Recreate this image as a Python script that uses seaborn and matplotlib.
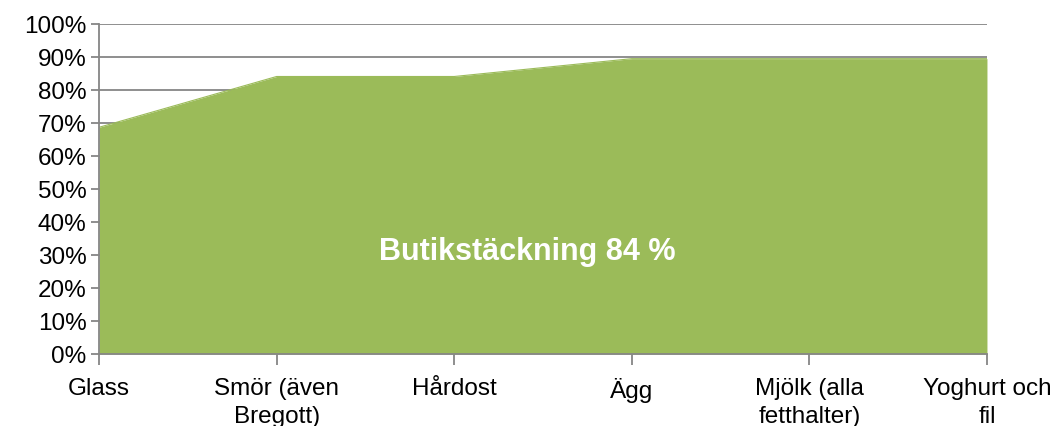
import numpy as np
import matplotlib
matplotlib.use("Agg")
import matplotlib.pyplot as plt
import seaborn as sns
import pandas as pd

categories = ["Glass", "Smör (även\nBregott)", "Hårdost", "Ägg", "Mjölk (alla\nfetthalter)", "Yoghurt och\nfil"]
coverage = [68.7, 84.1, 84.1, 89.5, 89.5, 89.5]
y_ticks = list(range(0, 101, 10))
center_label = "Butikstäckning 84 %"

sns.set_theme(style="white")
plt.rcParams['font.family'] = ['Liberation Sans', 'DejaVu Sans']
plt.rcParams['text.color'] = 'black'
plt.rcParams['xtick.color'] = 'black'
plt.rcParams['ytick.color'] = 'black'

df = pd.DataFrame({"cat": categories, "val": coverage})
xpos = np.arange(len(categories))

fig = plt.figure(figsize=(10.6, 4.26), dpi=100)
ax = fig.add_axes([0.0934, 0.169, 0.8377, 0.7746])

ax.fill_between(xpos, 0, df["val"], color="#9BBB59", linewidth=0, zorder=2)
sns.lineplot(x=xpos, y=df["val"], ax=ax, color="#9BBB59", linewidth=0.8, zorder=2)

ax.set_xlim(0, len(categories) - 1)
ax.set_ylim(0, 100)
ax.set_yticks(y_ticks)
ax.set_yticklabels([f"{t}%" for t in y_ticks], fontsize=17.5, color="black")
ax.set_xticks(xpos)
ax.set_xticklabels(categories, fontsize=17.5, linespacing=1.35, color="black")
ax.set_xlabel("")
ax.set_ylabel("")

for t in y_ticks[1:]:
    ax.axhline(t, color="#868686", linewidth=1.3, zorder=1)

for side in ["top", "right"]:
    ax.spines[side].set_visible(False)
for side in ["left", "bottom"]:
    ax.spines[side].set_color("#868686")
    ax.spines[side].set_linewidth(1.3)
    ax.spines[side].set_zorder(3)

ax.tick_params(axis="y", direction="out", length=6, width=1.3, color="#868686", pad=3, left=True)
ax.tick_params(axis="x", direction="out", length=8, width=1.3, color="#868686", pad=9, bottom=True)

ax.text(2.41, 31, center_label, color="white", fontsize=22, fontweight="bold",
        ha="center", va="center", zorder=4)

fig.savefig("out.png", dpi=100)
